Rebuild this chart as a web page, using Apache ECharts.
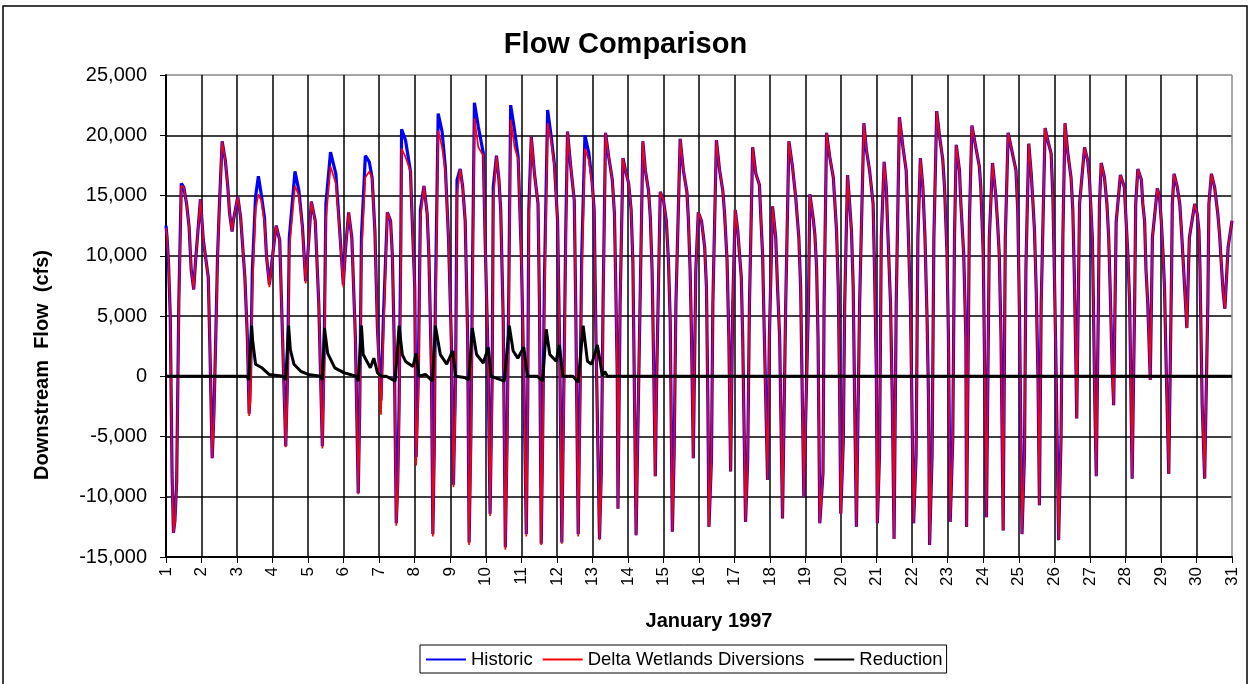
<!DOCTYPE html>
<html>
<head>
<meta charset="utf-8">
<script src="https://cdn.jsdelivr.net/npm/echarts@6/dist/echarts.min.js"></script>
<style>
html,body{margin:0;padding:0;background:#fff;}
#chart{width:1251px;height:684px;}
</style>
</head>
<body>
<div id="chart"></div>
<script>
// ---- DATA (day of January 1997, cfs) ----
const dayTicks = [1,2,3,4,5,6,7,8,9,10,11,12,13,14,15,16,17,18,19,20,21,22,23,24,25,26,27,28,29,30,31];
const flowTicks = [-15000,-10000,-5000,0,5000,10000,15000,20000,25000];

const historic = [[1.00,12500],[1.03,11500],[1.07,9500],[1.12,5000],[1.17,-8000],[1.21,-13000],[1.25,-12000],[1.3,-8800],[1.36,6000],[1.43,16000],[1.5,15700],[1.58,14300],[1.65,12400],[1.71,8800],[1.78,7200],[1.83,9500],[1.9,12100],[1.97,14700],[2.05,11300],[2.19,8200],[2.24,1800],[2.3,-6800],[2.35,-3000],[2.4,3200],[2.45,9900],[2.5,14000],[2.58,19500],[2.67,17900],[2.74,15700],[2.79,13500],[2.86,12000],[2.9,13000],[3.02,14900],[3.1,13200],[3.22,8200],[3.29,3200],[3.34,-3100],[3.38,0],[3.43,8800],[3.52,14900],[3.6,16600],[3.68,15100],[3.77,13200],[3.83,9900],[3.91,7600],[4.0,10000],[4.1,12500],[4.2,11300],[4.28,3200],[4.37,-5800],[4.42,0],[4.47,11500],[4.63,17000],[4.74,15400],[4.84,12400],[4.93,7900],[5.0,10500],[5.09,14500],[5.2,12900],[5.3,6000],[5.4,-5800],[5.45,2000],[5.5,14300],[5.63,18600],[5.78,16800],[5.87,12900],[5.99,7600],[6.05,10500],[6.14,13600],[6.23,11500],[6.33,3200],[6.41,-9700],[6.45,-3000],[6.5,11500],[6.61,18300],[6.72,17800],[6.8,16500],[6.88,12000],[6.95,4000],[7.05,-2000],[7.12,5000],[7.23,13600],[7.32,12900],[7.37,10100],[7.42,3200],[7.48,-12200],[7.52,-9000],[7.56,-2400],[7.61,11500],[7.63,20500],[7.74,19600],[7.88,17000],[7.93,12900],[8.0,7400],[8.04,-6700],[8.1,0],[8.16,13800],[8.26,15800],[8.35,13500],[8.4,9900],[8.47,500],[8.51,-13100],[8.55,-6000],[8.58,6000],[8.66,21800],[8.77,20300],[8.86,17400],[8.95,11500],[9.03,3000],[9.09,-9000],[9.15,0],[9.19,16300],[9.28,17200],[9.35,15700],[9.42,12900],[9.49,3200],[9.53,-13800],[9.58,-5000],[9.63,10000],[9.68,22700],[9.79,20700],[9.93,18500],[9.98,11500],[10.06,2000],[10.12,-11400],[10.18,0],[10.21,15700],[10.3,18300],[10.37,16300],[10.42,13800],[10.49,4700],[10.55,-14200],[10.6,-5000],[10.65,8000],[10.7,22500],[10.81,20400],[10.91,18200],[11.0,10100],[11.07,0],[11.14,-13100],[11.18,-2000],[11.21,13800],[11.28,19900],[11.37,16800],[11.47,14300],[11.51,6000],[11.56,-13900],[11.6,-5000],[11.65,8000],[11.74,22100],[11.84,19900],[11.93,17600],[12.02,12900],[12.08,2000],[12.14,-13800],[12.2,0],[12.25,12000],[12.3,20300],[12.39,17400],[12.49,14600],[12.53,6000],[12.6,-13100],[12.65,-2000],[12.7,10000],[12.79,20000],[12.9,18500],[12.99,16200],[13.05,13800],[13.1,3200],[13.2,-13500],[13.25,-8000],[13.3,6000],[13.37,20200],[13.46,18200],[13.56,16300],[13.62,13500],[13.65,8800],[13.7,0],[13.72,-11000],[13.78,6000],[13.86,18100],[13.93,17100],[14.02,16000],[14.09,13800],[14.14,9400],[14.23,-13200],[14.3,-1000],[14.42,19500],[14.49,17100],[14.58,15400],[14.63,13200],[14.68,8800],[14.72,1800],[14.77,-8300],[14.81,0],[14.91,15300],[15.0,14600],[15.08,12900],[15.14,9600],[15.19,4600],[15.25,-12900],[15.3,-6500],[15.35,6000],[15.47,19700],[15.56,17100],[15.66,15300],[15.7,13100],[15.75,8800],[15.79,3200],[15.84,-6800],[15.91,8800],[15.98,13600],[16.07,12900],[16.16,10700],[16.21,7400],[16.25,-2300],[16.28,-12500],[16.35,-7000],[16.39,6000],[16.49,19600],[16.58,17100],[16.67,15400],[16.72,13500],[16.79,9600],[16.84,3200],[16.89,-7900],[16.95,6000],[17.02,13800],[17.09,12100],[17.19,8200],[17.23,3200],[17.31,-12100],[17.37,-7000],[17.42,6000],[17.51,19000],[17.6,16800],[17.7,15900],[17.74,13200],[17.79,10100],[17.84,3200],[17.93,-8600],[17.98,3200],[18.07,14100],[18.16,11500],[18.21,7400],[18.27,3200],[18.35,-11800],[18.44,6000],[18.53,19500],[18.63,17400],[18.72,14900],[18.81,11500],[18.86,7400],[18.91,-2300],[18.95,-10000],[19.08,6000],[19.12,15100],[19.21,13200],[19.26,11800],[19.31,9000],[19.35,3200],[19.4,-12200],[19.49,-8000],[19.52,6000],[19.59,20200],[19.68,18200],[19.78,16500],[19.87,12100],[19.92,7400],[19.96,-2000],[19.99,-11400],[20.06,-5500],[20.1,6000],[20.18,16700],[20.24,14300],[20.29,12100],[20.34,7400],[20.38,-2000],[20.43,-12500],[20.52,6000],[20.64,21000],[20.71,18800],[20.8,17100],[20.9,14300],[20.94,8800],[20.99,500],[21.02,-12200],[21.08,-6500],[21.13,11500],[21.21,17800],[21.27,15700],[21.32,11500],[21.39,6000],[21.44,-2000],[21.49,-13500],[21.55,6000],[21.64,21500],[21.74,19000],[21.83,17100],[21.88,12900],[21.95,6000],[21.99,-2000],[22.04,-12200],[22.11,-6500],[22.16,11500],[22.23,18100],[22.3,15700],[22.36,11500],[22.42,4600],[22.46,-2000],[22.49,-14000],[22.56,-6500],[22.61,11500],[22.69,22000],[22.77,19900],[22.86,18000],[22.91,15700],[22.98,10100],[23.02,3200],[23.07,-12100],[23.14,-5500],[23.19,11500],[23.24,19200],[23.33,17100],[23.37,14300],[23.45,10100],[23.51,3200],[23.53,-12500],[23.61,12900],[23.68,20800],[23.79,19000],[23.89,17400],[23.93,15700],[24.0,10100],[24.05,-2000],[24.09,-11700],[24.17,11500],[24.26,17700],[24.35,15100],[24.4,12900],[24.45,10100],[24.5,3200],[24.56,-12800],[24.62,11500],[24.7,20200],[24.82,18500],[24.92,17100],[24.97,13800],[25.02,5000],[25.09,-13100],[25.16,-6500],[25.2,9000],[25.28,19300],[25.35,16800],[25.39,14800],[25.44,12200],[25.49,7200],[25.54,0],[25.58,-10700],[25.63,6000],[25.74,20600],[25.82,19500],[25.91,18500],[25.96,14800],[26.0,8800],[26.05,500],[26.12,-13600],[26.19,-5000],[26.24,11500],[26.3,21000],[26.38,18500],[26.47,16500],[26.52,13800],[26.56,8800],[26.61,500],[26.63,-3500],[26.71,14300],[26.85,19000],[26.94,17900],[26.99,16300],[27.07,11500],[27.1,6000],[27.14,-2300],[27.18,-8300],[27.24,6000],[27.27,14300],[27.32,17700],[27.41,16500],[27.48,14300],[27.53,11500],[27.57,7400],[27.63,500],[27.67,-2400],[27.74,12800],[27.86,16700],[27.97,15700],[28.02,12900],[28.07,10100],[28.12,6000],[28.16,-2300],[28.19,-8500],[28.26,6000],[28.29,14300],[28.35,17200],[28.45,16300],[28.49,14300],[28.54,12900],[28.58,8800],[28.63,6000],[28.7,-300],[28.76,11500],[28.9,15600],[28.96,14900],[29.01,12900],[29.06,10100],[29.1,7400],[29.15,500],[29.22,-8100],[29.3,8800],[29.32,14300],[29.37,16800],[29.46,15700],[29.53,14300],[29.59,11500],[29.64,8800],[29.73,4000],[29.8,11500],[29.95,14300],[30.02,13500],[30.07,12100],[30.1,8800],[30.13,3200],[30.16,-2300],[30.23,-8500],[30.32,6000],[30.35,14300],[30.42,16800],[30.51,15700],[30.6,13500],[30.65,11800],[30.7,9300],[30.75,7000],[30.8,5600],[30.89,10700],[31.0,12900]];

const diversions = [[1.00,12300],[1.03,11500],[1.07,9500],[1.12,5000],[1.17,-8000],[1.21,-13000],[1.25,-12200],[1.3,-9000],[1.36,5000],[1.43,15800],[1.5,15700],[1.58,14300],[1.65,12400],[1.71,8800],[1.78,7200],[1.83,9500],[1.9,12100],[1.97,14700],[2.05,11300],[2.19,8200],[2.24,1800],[2.3,-6800],[2.35,-3500],[2.4,3000],[2.45,9500],[2.5,14000],[2.58,19500],[2.67,17900],[2.74,15700],[2.79,13500],[2.86,12000],[2.9,13000],[3.02,14900],[3.1,13200],[3.22,8200],[3.29,3200],[3.34,-3300],[3.38,-2000],[3.43,7000],[3.52,13800],[3.6,15100],[3.68,14600],[3.77,12800],[3.83,9900],[3.91,7400],[4.0,10000],[4.1,12500],[4.2,11300],[4.28,3200],[4.37,-5900],[4.42,-1500],[4.47,10500],[4.63,15800],[4.74,15000],[4.84,12200],[4.93,7700],[5.0,10500],[5.09,14500],[5.2,12900],[5.3,6000],[5.4,-6000],[5.45,0],[5.5,13000],[5.63,17400],[5.78,16000],[5.87,12700],[5.99,7400],[6.05,10500],[6.14,13600],[6.23,11500],[6.33,3200],[6.41,-9800],[6.45,-4500],[6.5,10000],[6.61,16500],[6.72,17000],[6.8,16400],[6.88,12000],[6.95,4000],[7.05,-3200],[7.12,3500],[7.23,13600],[7.32,12900],[7.37,10100],[7.42,3200],[7.48,-12400],[7.52,-10000],[7.56,-4000],[7.61,9500],[7.63,18900],[7.74,18200],[7.88,17000],[7.93,12900],[8.0,7400],[8.04,-7400],[8.1,-2000],[8.16,13000],[8.26,15800],[8.35,13500],[8.4,9900],[8.47,500],[8.51,-13300],[8.55,-7500],[8.58,4000],[8.66,20400],[8.77,19000],[8.86,17000],[8.95,11500],[9.03,3000],[9.09,-9200],[9.15,-2000],[9.19,15000],[9.28,17200],[9.35,15700],[9.42,12900],[9.49,3200],[9.53,-14000],[9.58,-7000],[9.63,8000],[9.68,21400],[9.79,19000],[9.93,18300],[9.98,11500],[10.06,2000],[10.12,-11600],[10.18,-2000],[10.21,14500],[10.3,18300],[10.37,16300],[10.42,13800],[10.49,4700],[10.55,-14400],[10.6,-7000],[10.65,6000],[10.7,21300],[10.81,19000],[10.91,18000],[11.0,10100],[11.07,0],[11.14,-13300],[11.18,-4000],[11.21,12500],[11.28,19900],[11.37,16800],[11.47,14300],[11.51,6000],[11.56,-14000],[11.6,-7000],[11.65,6000],[11.74,21000],[11.84,19500],[11.93,17400],[12.02,12900],[12.08,2000],[12.14,-13900],[12.2,-2000],[12.25,10500],[12.3,20300],[12.39,17400],[12.49,14600],[12.53,6000],[12.6,-13300],[12.65,-4000],[12.7,8000],[12.79,18900],[12.9,17900],[12.99,16000],[13.05,13800],[13.1,3200],[13.2,-13600],[13.25,-9000],[13.3,5000],[13.37,20200],[13.46,18200],[13.56,16300],[13.62,13500],[13.65,8800],[13.7,0],[13.72,-11000],[13.78,6000],[13.86,18100],[13.93,17100],[14.02,16000],[14.09,13800],[14.14,9400],[14.23,-13200],[14.3,-1000],[14.42,19500],[14.49,17100],[14.58,15400],[14.63,13200],[14.68,8800],[14.72,1800],[14.77,-8300],[14.81,0],[14.91,15300],[15.0,14600],[15.08,12900],[15.14,9600],[15.19,4600],[15.25,-12900],[15.3,-6500],[15.35,6000],[15.47,19700],[15.56,17100],[15.66,15300],[15.7,13100],[15.75,8800],[15.79,3200],[15.84,-6800],[15.91,8800],[15.98,13600],[16.07,12900],[16.16,10700],[16.21,7400],[16.25,-2300],[16.28,-12500],[16.35,-7000],[16.39,6000],[16.49,19600],[16.58,17100],[16.67,15400],[16.72,13500],[16.79,9600],[16.84,3200],[16.89,-7900],[16.95,6000],[17.02,13800],[17.09,12100],[17.19,8200],[17.23,3200],[17.31,-12100],[17.37,-7000],[17.42,6000],[17.51,19000],[17.6,16800],[17.7,15900],[17.74,13200],[17.79,10100],[17.84,3200],[17.93,-8600],[17.98,3200],[18.07,14100],[18.16,11500],[18.21,7400],[18.27,3200],[18.35,-11800],[18.44,6000],[18.53,19500],[18.63,17400],[18.72,14900],[18.81,11500],[18.86,7400],[18.91,-2300],[18.95,-10000],[19.08,6000],[19.12,15100],[19.21,13200],[19.26,11800],[19.31,9000],[19.35,3200],[19.4,-12200],[19.49,-8000],[19.52,6000],[19.59,20200],[19.68,18200],[19.78,16500],[19.87,12100],[19.92,7400],[19.96,-2000],[19.99,-11400],[20.06,-5500],[20.1,6000],[20.18,16700],[20.24,14300],[20.29,12100],[20.34,7400],[20.38,-2000],[20.43,-12500],[20.52,6000],[20.64,21000],[20.71,18800],[20.8,17100],[20.9,14300],[20.94,8800],[20.99,500],[21.02,-12200],[21.08,-6500],[21.13,11500],[21.21,17800],[21.27,15700],[21.32,11500],[21.39,6000],[21.44,-2000],[21.49,-13500],[21.55,6000],[21.64,21500],[21.74,19000],[21.83,17100],[21.88,12900],[21.95,6000],[21.99,-2000],[22.04,-12200],[22.11,-6500],[22.16,11500],[22.23,18100],[22.3,15700],[22.36,11500],[22.42,4600],[22.46,-2000],[22.49,-14000],[22.56,-6500],[22.61,11500],[22.69,22000],[22.77,19900],[22.86,18000],[22.91,15700],[22.98,10100],[23.02,3200],[23.07,-12100],[23.14,-5500],[23.19,11500],[23.24,19200],[23.33,17100],[23.37,14300],[23.45,10100],[23.51,3200],[23.53,-12500],[23.61,12900],[23.68,20800],[23.79,19000],[23.89,17400],[23.93,15700],[24.0,10100],[24.05,-2000],[24.09,-11700],[24.17,11500],[24.26,17700],[24.35,15100],[24.4,12900],[24.45,10100],[24.5,3200],[24.56,-12800],[24.62,11500],[24.7,20200],[24.82,18500],[24.92,17100],[24.97,13800],[25.02,5000],[25.09,-13100],[25.16,-6500],[25.2,9000],[25.28,19300],[25.35,16800],[25.39,14800],[25.44,12200],[25.49,7200],[25.54,0],[25.58,-10700],[25.63,6000],[25.74,20600],[25.82,19500],[25.91,18500],[25.96,14800],[26.0,8800],[26.05,500],[26.12,-13600],[26.19,-5000],[26.24,11500],[26.3,21000],[26.38,18500],[26.47,16500],[26.52,13800],[26.56,8800],[26.61,500],[26.63,-3500],[26.71,14300],[26.85,19000],[26.94,17900],[26.99,16300],[27.07,11500],[27.1,6000],[27.14,-2300],[27.18,-8300],[27.24,6000],[27.27,14300],[27.32,17700],[27.41,16500],[27.48,14300],[27.53,11500],[27.57,7400],[27.63,500],[27.67,-2400],[27.74,12800],[27.86,16700],[27.97,15700],[28.02,12900],[28.07,10100],[28.12,6000],[28.16,-2300],[28.19,-8500],[28.26,6000],[28.29,14300],[28.35,17200],[28.45,16300],[28.49,14300],[28.54,12900],[28.58,8800],[28.63,6000],[28.7,-300],[28.76,11500],[28.9,15600],[28.96,14900],[29.01,12900],[29.06,10100],[29.1,7400],[29.15,500],[29.22,-8100],[29.3,8800],[29.32,14300],[29.37,16800],[29.46,15700],[29.53,14300],[29.59,11500],[29.64,8800],[29.73,4000],[29.8,11500],[29.95,14300],[30.02,13500],[30.07,12100],[30.1,8800],[30.13,3200],[30.16,-2300],[30.23,-8500],[30.32,6000],[30.35,14300],[30.42,16800],[30.51,15700],[30.6,13500],[30.65,11800],[30.7,9300],[30.75,7000],[30.8,5600],[30.89,10700],[31.0,12900]];

const reduction = [[1,0],[3.28,0],[3.33,-300],[3.36,1500],[3.41,4200],[3.44,2900],[3.52,1000],[3.7,700],[3.9,150],[4.3,0],[4.37,-300],[4.45,4200],[4.5,2200],[4.6,1000],[4.8,400],[5.0,150],[5.35,0],[5.4,-300],[5.46,4000],[5.55,1900],[5.75,700],[6.0,300],[6.35,0],[6.41,-400],[6.5,4200],[6.55,1800],[6.66,1200],[6.75,700],[6.85,1500],[6.95,300],[7.05,0],[7.2,0],[7.45,-400],[7.56,4200],[7.65,1800],[7.75,1200],[7.95,800],[8.04,1900],[8.12,0],[8.3,150],[8.5,-400],[8.58,4200],[8.72,1800],[8.9,1000],[9.07,2100],[9.15,0],[9.4,-100],[9.52,-300],[9.62,4000],[9.74,1800],[9.93,1100],[10.07,2400],[10.15,0],[10.33,-200],[10.52,-400],[10.66,4200],[10.77,2100],[10.9,1500],[11.07,2400],[11.17,0],[11.45,0],[11.6,-400],[11.7,3900],[11.8,1800],[11.98,1250],[12.07,2600],[12.17,0],[12.45,0],[12.6,-500],[12.74,4200],[12.86,1250],[12.98,1000],[13.14,2600],[13.23,1000],[13.28,0],[13.35,400],[13.42,0],[31,0]];

const chart = echarts.init(document.getElementById('chart'), null, {renderer:'canvas'});
const FONT = 'Liberation Sans, Arial, sans-serif';
const gridColors = flowTicks.map((v,i)=> i===flowTicks.length-1 ? '#888' : '#000');
const vColors = dayTicks.map((v,i)=> i===dayTicks.length-1 ? '#888' : '#000');

chart.setOption({
  animation:false,
  backgroundColor:'#fff',
  textStyle:{fontFamily:FONT},
  title:{
    text:'Flow Comparison', left:'center', top:25,
    textStyle:{fontFamily:FONT, fontSize:29, fontWeight:'bold', color:'#000'}
  },
  graphic:[
    {type:'rect', shape:{x:3,y:6,width:1244,height:700}, style:{fill:'none', stroke:'#000', lineWidth:1.5}, silent:true, z:-1},
    {type:'text', x:42, y:365, rotation:Math.PI/2, silent:true,
      style:{text:'Downstream  Flow  (cfs)', fill:'#000', font:'bold 20px Liberation Sans, Arial, sans-serif', align:'center', verticalAlign:'middle'}},
    {type:'text', x:709, y:621, silent:true,
      style:{text:'January 1997', fill:'#000', font:'bold 20px Liberation Sans, Arial, sans-serif', align:'center', verticalAlign:'middle'}}
  ],
  legend:{
    left:420, top:645, orient:'horizontal',
    borderColor:'#000', borderWidth:1, padding:[5,4,4,6],
    itemGap:10, itemWidth:40, itemHeight:2, icon:'rect',
    textStyle:{fontFamily:FONT, fontSize:18.5, color:'#000'},
    data:['Historic','Delta Wetlands Diversions','Reduction']
  },
  grid:{left:166, right:19, top:75, bottom:127, containLabel:false, show:false},
  xAxis:{
    type:'value', min:1, max:31, interval:1,
    axisLine:{show:true, onZero:false, lineStyle:{color:'#000', width:2}},
    axisTick:{show:true, length:6, lineStyle:{color:'#000', width:1}},
    axisLabel:{rotate:90, margin:10, fontSize:17, color:'#000', fontFamily:FONT},
    splitLine:{show:true, lineStyle:{color:vColors, width:1.5}}
  },
  yAxis:{
    type:'value', min:-15000, max:25000, interval:5000,
    axisLine:{show:true, onZero:false, lineStyle:{color:'#000', width:2}},
    axisTick:{show:true, length:6, lineStyle:{color:'#000', width:1}},
    axisLabel:{margin:19, fontSize:20, color:'#000', fontFamily:FONT,
      formatter:v=>v.toLocaleString('en-US')},
    splitLine:{show:true, lineStyle:{color:gridColors, width:1.5}}
  },
  series:[
    {name:'Historic', type:'line', data:historic, showSymbol:false, symbol:'none',
      lineStyle:{color:'#0000FF', width:3.2}, itemStyle:{color:'#0000FF'}, z:2},
    {name:'Delta Wetlands Diversions', type:'line', data:diversions, showSymbol:false, symbol:'none',
      lineStyle:{color:'#FF0000', width:1.7}, itemStyle:{color:'#FF0000'}, z:3},
    {name:'Reduction', type:'line', data:reduction, showSymbol:false, symbol:'none',
      lineStyle:{color:'#000', width:3}, itemStyle:{color:'#000'}, z:4}
  ]
});
</script>
</body>
</html>
